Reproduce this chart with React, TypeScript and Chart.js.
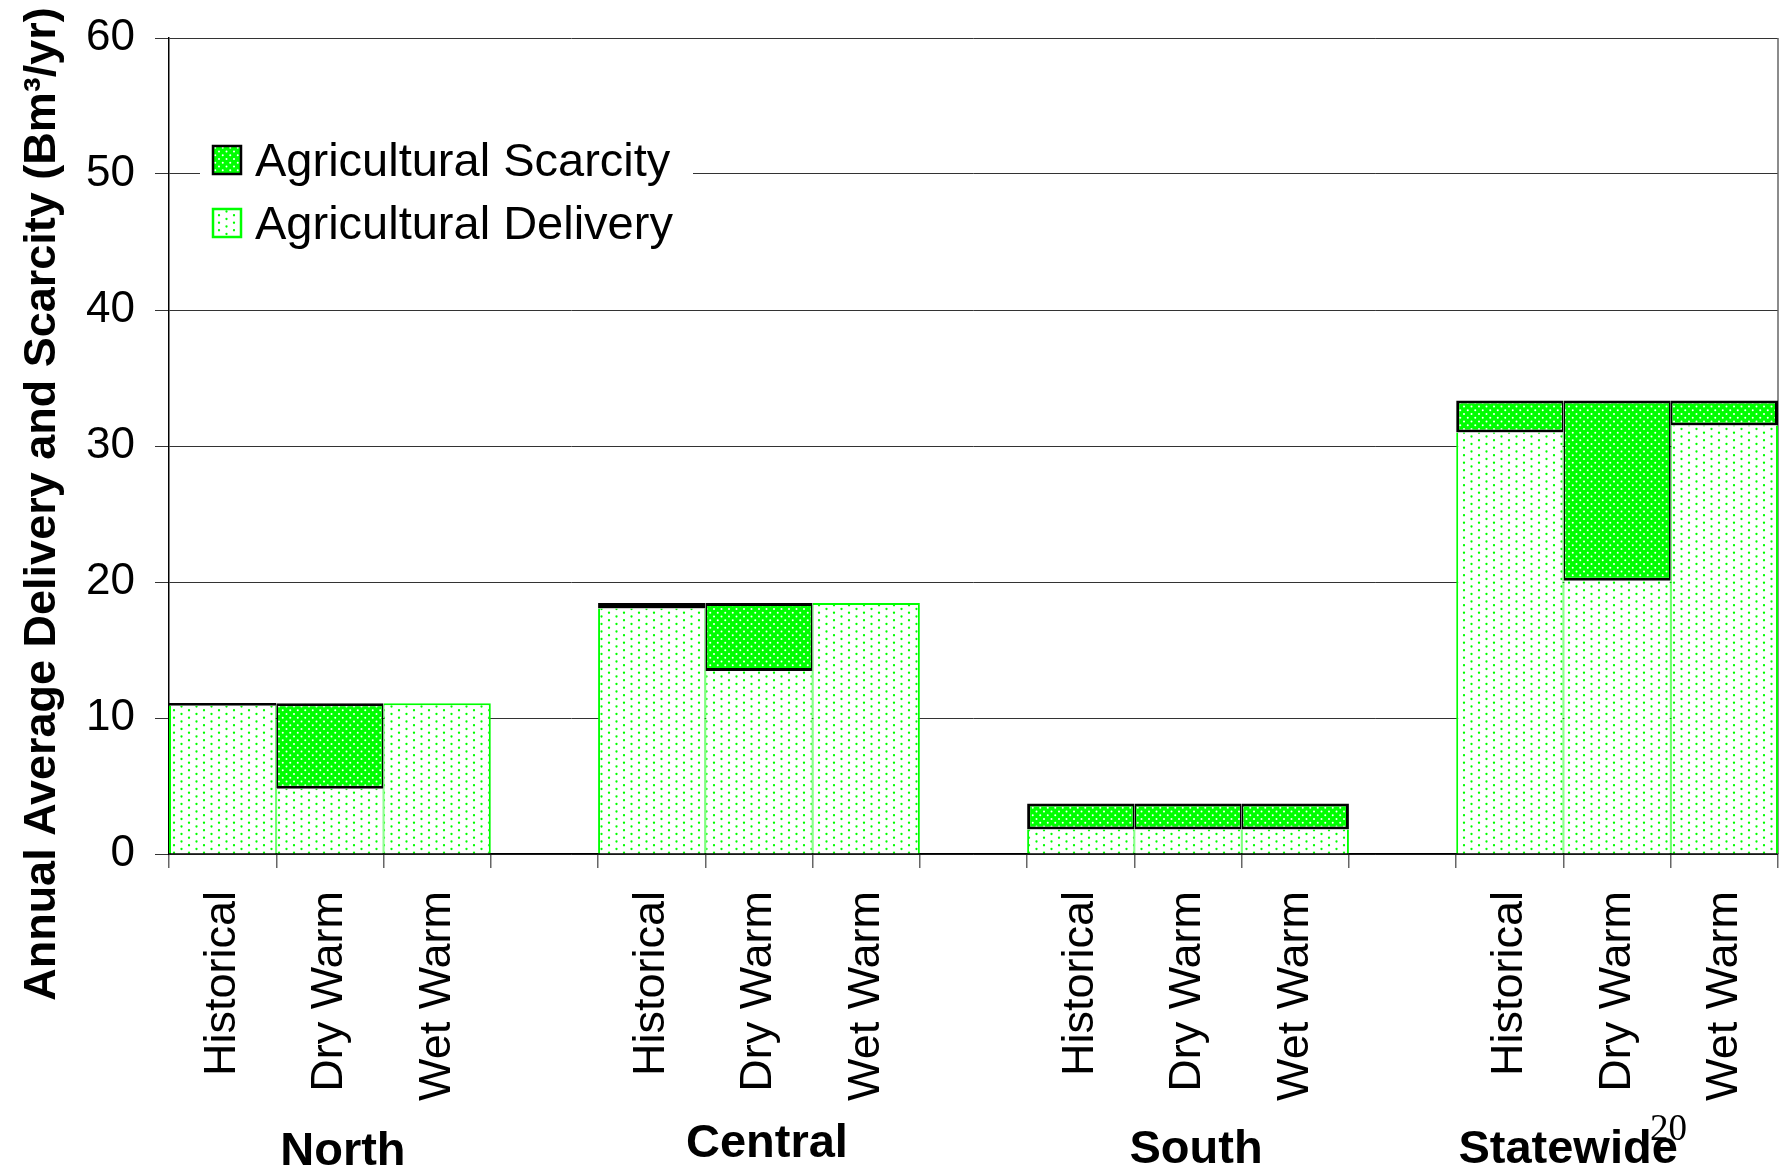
import { useEffect, useRef } from "react";
import { Chart, registerables } from "chart.js";

Chart.register(...registerables);

// ---- data ----
const regions = ["North", "Central", "South", "Statewide"];
const scenarios = ["Historical", "Dry Warm", "Wet Warm"];
// Agricultural delivery (Bm3/yr), per region: Historical, Dry Warm, Wet Warm
const deliveryNorth = [10.9, 4.8, 11.08];
const deliveryCentral = [18.05, 13.45, 18.46];
const deliverySouth = [1.81, 1.81, 1.81];
const deliveryStatewide = [31.0, 20.1, 31.5];
// Agricultural scarcity (Bm3/yr)
const scarcityNorth = [0.2, 6.28, 0];
const scarcityCentral = [0.41, 5.01, 0];
const scarcitySouth = [1.91, 1.91, 1.91];
const scarcityStatewide = [2.35, 13.25, 1.85];
const yMin = 0;
const yMax = 60;
const yStep = 10;
const seriesNames = ["Agricultural Scarcity", "Agricultural Delivery"];
const yTitle = "Annual Average Delivery and Scarcity (Bm\u00B3/yr)";
const pageNumber = "20";

const deliveryByRegion = [deliveryNorth, deliveryCentral, deliverySouth, deliveryStatewide];
const scarcityByRegion = [scarcityNorth, scarcityCentral, scarcitySouth, scarcityStatewide];

const labels: string[] = [];
const delivery: (number | null)[] = [];
const scarcity: (number | null)[] = [];
regions.forEach((_, gi) => {
  if (gi > 0) {
    labels.push("");
    delivery.push(null);
    scarcity.push(null);
  }
  scenarios.forEach((s, si) => {
    labels.push(s);
    delivery.push(deliveryByRegion[gi][si]);
    scarcity.push(scarcityByRegion[gi][si]);
  });
});

const GREEN = "#00FF00";
const SANS = "'Liberation Sans', Arial, Helvetica, sans-serif";

function makePattern(
  bg: string | null,
  dot: string,
  size: number,
  px: number,
  py: number,
  r: number
): CanvasPattern | string {
  const c = document.createElement("canvas");
  c.width = size;
  c.height = size;
  const g = c.getContext("2d");
  if (!g) return bg || "#fff";
  g.fillStyle = bg || "#fff";
  g.fillRect(0, 0, size, size);
  g.fillStyle = dot;
  const rows = Math.round(size / py);
  const cols = Math.round(size / px);
  for (let ri = 0; ri < rows; ri++) {
    const y = ri * py + 1.5;
    const off = (ri % 2) * (px / 2);
    for (let ci = 0; ci < cols; ci++) {
      const x = ci * px + off + 1.5;
      g.beginPath();
      g.arc(x, y, r, 0, Math.PI * 2);
      g.fill();
    }
  }
  const p = g.createPattern(c, "repeat");
  return p || bg || "#fff";
}

const groupDx = [13, 8, 8, -49];
const groupDy = [311, 303, 309, 309];

export default function App() {
  const ref = useRef<HTMLCanvasElement | null>(null);

  useEffect(() => {
    const canvas = ref.current;
    if (!canvas) return;
    const deliveryFill = makePattern(null, GREEN, 30, 15, 3.75, 1.15);
    const scarcityFill = makePattern(GREEN, "#ffffff", 15, 7.5, 3.75, 1.0);

    const overlay = {
      id: "overlay",
      beforeDatasetsDraw(chart: any) {
        const { ctx, chartArea } = chart;
        ctx.save();
        ctx.strokeStyle = "#666";
        ctx.lineWidth = 1.5;
        ctx.beginPath();
        ctx.moveTo(chartArea.right, chartArea.top);
        ctx.lineTo(chartArea.right, chartArea.bottom);
        ctx.stroke();
        ctx.restore();
      },
      afterDraw(chart: any) {
        const { ctx, chartArea, scales } = chart;
        const xs = scales.x;
        ctx.save();
        // legend
        const lx = chartArea.left + 31;
        const ly = chartArea.top + 87;
        ctx.fillStyle = "#fff";
        ctx.fillRect(lx, ly, 493, 130);
        const sw = 30;
        const sx = chartArea.left + 43;
        const rowsY = [chartArea.top + 107, chartArea.top + 170];
        const fills = [scarcityFill, deliveryFill];
        const borders = ["#000", GREEN];
        seriesNames.forEach((name, i) => {
          ctx.fillStyle = fills[i];
          ctx.fillRect(sx, rowsY[i], sw, sw);
          ctx.strokeStyle = borders[i];
          ctx.lineWidth = 2.5;
          ctx.strokeRect(sx + 1, rowsY[i] + 1, sw - 2, sw - 2);
          ctx.fillStyle = "#000";
          ctx.font = `47px ${SANS}`;
          ctx.textAlign = "left";
          ctx.textBaseline = "alphabetic";
          ctx.fillText(name, sx + 43, rowsY[i] + 31);
        });
        // group labels
        ctx.font = `bold 47px ${SANS}`;
        ctx.fillStyle = "#000";
        ctx.textAlign = "center";
        ctx.textBaseline = "alphabetic";
        regions.forEach((g, gi) => {
          const c = (xs.getPixelForValue(gi * 4) + xs.getPixelForValue(gi * 4 + 2)) / 2;
          ctx.fillText(g, c + groupDx[gi], chartArea.bottom + groupDy[gi]);
        });
        // y title
        ctx.save();
        ctx.translate(55, (chartArea.top + chartArea.bottom) / 2 + 58);
        ctx.rotate(-Math.PI / 2);
        ctx.font = `bold 45px ${SANS}`;
        ctx.textAlign = "center";
        ctx.textBaseline = "alphabetic";
        ctx.fillText(yTitle, 0, 0);
        ctx.restore();
        // page number
        ctx.font = "37px 'Liberation Serif', 'Times New Roman', serif";
        ctx.textAlign = "left";
        ctx.fillText(pageNumber, chartArea.right - 128, 1140);
        ctx.restore();
      },
    };

    const chart = new Chart(canvas, {
      type: "bar",
      data: {
        labels,
        datasets: [
          {
            label: seriesNames[1],
            data: delivery,
            backgroundColor: deliveryFill as any,
            borderColor: GREEN,
            borderWidth: ((c: any) => {
              const i = c.dataIndex;
              const pos = i % 4;
              const hasScar = (scarcity[i] ?? 0) > 0;
              return { left: pos === 0 ? 2 : 1, right: pos === 2 ? 2 : 1, top: hasScar ? 0 : 2, bottom: 0 };
            }) as any,
            borderSkipped: "start",
            inflateAmount: 0,
            stack: "s",
          },
          {
            label: seriesNames[0],
            data: scarcity,
            backgroundColor: scarcityFill as any,
            borderColor: "#000",
            borderWidth: ((c: any) => {
              const pos = c.dataIndex % 4;
              return { left: pos === 0 ? 3 : 1.75, right: pos === 2 ? 3 : 1.75, top: 3, bottom: 3 };
            }) as any,
            borderSkipped: false,
            inflateAmount: 0,
            stack: "s",
          },
        ],
      },
      options: {
        animation: false,
        responsive: false,
        devicePixelRatio: 1,
        layout: { padding: { left: 0, top: 38, right: 8, bottom: 0 } },
        plugins: {
          legend: { display: false },
          tooltip: { enabled: false },
          title: { display: false },
        },
        datasets: { bar: { barPercentage: 1, categoryPercentage: 1 } },
        scales: {
          x: {
            stacked: true,
            offset: true,
            grid: {
              offset: true,
              drawOnChartArea: false,
              tickLength: 14,
              color: "#666",
              lineWidth: 1.5,
            },
            border: { color: "#000", width: 1.5 },
            ticks: {
              autoSkip: false,
              maxRotation: 90,
              minRotation: 90,
              padding: 23,
              color: "#000",
              font: { family: SANS, size: 45 },
            },
            afterFit: (s: any) => {
              s.height = 316;
              s.paddingLeft = 0;
              s.paddingRight = 0;
            },
          },
          y: {
            stacked: true,
            min: yMin,
            max: yMax,
            ticks: {
              stepSize: yStep,
              padding: 20,
              color: "#000",
              font: { family: SANS, size: 44 },
            },
            grid: { color: "#333", lineWidth: 1, tickLength: 14 },
            border: { color: "#000", width: 1.5 },
            afterFit: (s: any) => {
              s.width = 169;
              s.paddingTop = 0;
              s.paddingBottom = 0;
            },
          },
        },
      },
      plugins: [overlay],
    });
    return () => chart.destroy();
  }, []);

  return (
    <div style={{ position: "absolute", left: 0, top: 0, width: 1786, height: 1170, background: "#fff" }}>
      <canvas ref={ref} width={1786} height={1170} style={{ width: 1786, height: 1170, display: "block" }} />
    </div>
  );
}
